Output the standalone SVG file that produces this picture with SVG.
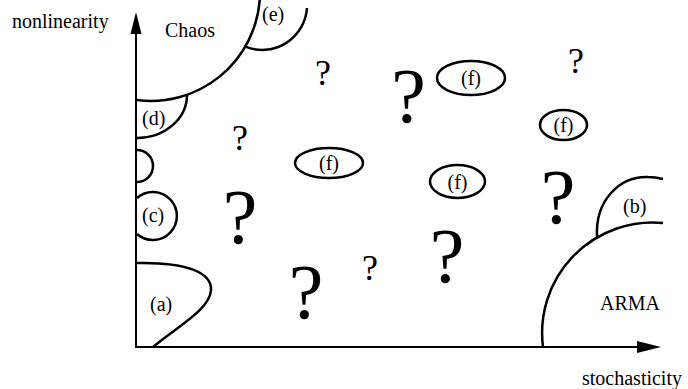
<svg xmlns="http://www.w3.org/2000/svg" width="688" height="389" viewBox="0 0 688 389">
<style>
text{font-family:"Liberation Serif","Times New Roman",serif;fill:#000}
.lbl{font-size:20px}
.q{font-size:78px;text-anchor:middle}
.qs{font-size:36px;text-anchor:middle}
.fl{font-size:20px;text-anchor:middle}
.c{fill:none;stroke:#000;stroke-width:2.5}
.ax{fill:none;stroke:#000;stroke-width:2}
</style>
<rect width="688" height="389" fill="#fff"/>
<g id="axes">
<line class="ax" x1="136" y1="348" x2="136" y2="30"/>
<polygon points="136,12 130.5,34 141.5,34" fill="#000"/>
<line class="ax" x1="135" y1="347" x2="640" y2="347"/>
<polygon points="661,347 637,341 637,353" fill="#000"/>
<text class="lbl" x="12" y="28">nonlinearity</text>
<text class="lbl" x="582" y="385">stochasticity</text>
</g>
<g id="chaos">
<path class="c" d="M137,100 A109,109 0 0 0 259.7,0"/>
<text class="lbl" x="165" y="37">Chaos</text>
</g>
<g id="e">
<path class="c" d="M245.3,46.7 A45,45 0 0 0 307,8"/>
<text class="lbl" x="262" y="21">(e)</text>
</g>
<g id="d">
<path class="c" d="M187,95 A50,43 0 0 1 137,138"/>
<text class="lbl" x="142" y="125">(d)</text>
</g>
<g id="small">
<path class="c" d="M137,150 A16,16 0 0 1 137,182"/>
</g>
<g id="c">
<path class="c" d="M137,198 A24,24 0 1 1 137,234"/>
<text class="lbl" x="142" y="222">(c)</text>
</g>
<g id="a">
<path class="c" d="M137,263 C185,262 212,272 211,290 C210,310 175,328 153,347"/>
<text class="lbl" x="150" y="311">(a)</text>
</g>
<g id="arma">
<path class="c" d="M543,347 A110.4,110.4 0 0 1 663,223.1"/>
<text class="lbl" x="600" y="310">ARMA</text>
</g>
<g id="b">
<path class="c" d="M597,237 C595,200 620,176 648,177 C654,177 659,178 663,179"/>
<text class="lbl" x="623" y="213">(b)</text>
</g>
<g id="f1"><ellipse class="c" cx="471" cy="78" rx="34" ry="17"/><text class="fl" x="471" y="85">(f)</text></g>
<g id="f2"><ellipse class="c" cx="563.5" cy="125" rx="23.5" ry="15"/><text class="fl" x="563.5" y="132">(f)</text></g>
<g id="f3"><ellipse class="c" cx="457.5" cy="181.5" rx="27.5" ry="16.5"/><text class="fl" x="457.5" y="188.5">(f)</text></g>
<g id="f4"><ellipse class="c" cx="329" cy="163" rx="34" ry="15"/><text class="fl" x="329" y="170">(f)</text></g>
<g id="questions">
<text class="q" x="240" y="243">?</text>
<text class="q" x="306" y="318">?</text>
<text class="q" x="408.5" y="122">?</text>
<text class="q" x="447" y="282">?</text>
<text class="q" x="558" y="223">?</text>
<text class="qs" x="323" y="85">?</text>
<text class="qs" x="576" y="73">?</text>
<text class="qs" x="240" y="150">?</text>
<text class="qs" x="370" y="280">?</text>
</g>
</svg>
